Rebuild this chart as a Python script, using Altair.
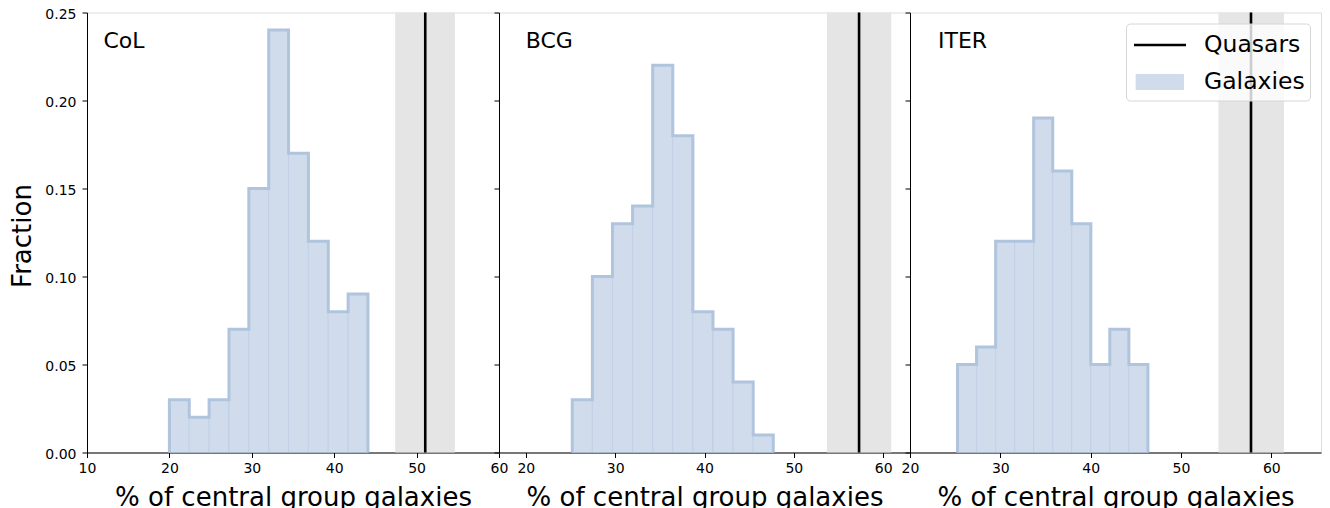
import altair as alt
import pandas as pd

# ---------------- data ----------------
panel_names = ["CoL", "BCG", "ITER"]

col_edges = [20.0, 22.41, 24.82, 27.23, 29.64, 32.05, 34.46, 36.87, 39.28, 41.69, 44.1]
col_frac = [0.03, 0.02, 0.03, 0.07, 0.15, 0.24, 0.17, 0.12, 0.08, 0.09]

bcg_edges = [25.2, 27.45, 29.7, 31.95, 34.2, 36.45, 38.7, 40.95, 43.2, 45.45, 47.7]
bcg_frac = [0.03, 0.10, 0.13, 0.14, 0.22, 0.18, 0.08, 0.07, 0.04, 0.01]

iter_edges = [25.26, 27.37, 29.48, 31.58, 33.69, 35.80, 37.91, 40.02, 42.12, 44.23, 46.34]
iter_frac = [0.05, 0.06, 0.12, 0.12, 0.19, 0.16, 0.13, 0.05, 0.07, 0.05]

quasar_value = [51.05, 57.3, 57.75]
quasar_low = [47.4, 53.7, 54.15]
quasar_high = [54.65, 60.9, 61.4]

x_domains = [[10, 60], [17, 63], [20, 65.5]]
x_ticks = [[10, 20, 30, 40, 50, 60], [20, 30, 40, 50, 60], [20, 30, 40, 50, 60]]
y_ticks = [0.0, 0.05, 0.10, 0.15, 0.20, 0.25]

legend_series = ["Quasars", "Galaxies"]

FILL = "#d0dceb"
EDGE = "#b0c4de"
BAND = "#e5e5e5"
FONT = "DejaVu Sans"

edges_all = [col_edges, bcg_edges, iter_edges]
fracs_all = [col_frac, bcg_frac, iter_frac]
label_x = [12.0, 20.0, 23.1]
widths = [412, 411, 411]


def make_panel(i):
    edges = edges_all[i]
    fracs = fracs_all[i]
    bars = pd.DataFrame({"start": edges[:-1], "end": edges[1:], "frac": fracs})
    # outline vertices of the step histogram
    xs, ys = [edges[0]], [0.0]
    for k, f in enumerate(fracs):
        xs += [edges[k], edges[k + 1]]
        ys += [f, f]
    xs.append(edges[-1])
    ys.append(0.0)
    outline = pd.DataFrame({"x": xs, "y": ys, "i": list(range(len(xs)))})
    qdf = pd.DataFrame({"q": [quasar_value[i]], "lo": [quasar_low[i]], "hi": [quasar_high[i]]})

    xscale = alt.Scale(domain=x_domains[i], nice=False, zero=False)
    yscale = alt.Scale(domain=[0, 0.25], nice=False, zero=True)

    xaxis = alt.Axis(
        values=x_ticks[i], title="% of central group galaxies", grid=False,
        labelFontSize=14, tickSize=5, labelPadding=4, titleFontSize=26,
        titleFontWeight="normal", titlePadding=9, labelFlush=False,
        labelOverlap=False, labelColor="black", tickColor="black",
        domainColor="black", titleColor="black", labelFont=FONT, titleFont=FONT,
    )
    if i == 0:
        yaxis = alt.Axis(
            values=y_ticks, format=".2f", title="Fraction", grid=False,
            labelFontSize=14, tickSize=5, labelPadding=6, labelOffset=1.5,
            titleFontSize=26, titleFontWeight="normal", titleX=-57, titleY=223,
            titleAngle=270, titleBaseline="alphabetic", titleAlign="center",
            labelColor="black", tickColor="black", domainColor="black",
            titleColor="black", labelFont=FONT, titleFont=FONT,
        )
    else:
        yaxis = alt.Axis(
            values=y_ticks, labels=False, title=None, grid=False, tickSize=5,
            tickColor="black", domainColor="black",
        )

    band = alt.Chart(qdf).mark_rect(color=BAND).encode(
        x=alt.X("lo:Q", scale=xscale, axis=xaxis), x2="hi:Q"
    )
    hist = alt.Chart(bars).mark_rect(
        fill=FILL, stroke=EDGE, strokeOpacity=0.45, strokeWidth=1
    ).encode(
        x=alt.X("start:Q", scale=xscale, axis=xaxis),
        x2="end:Q",
        y=alt.Y("frac:Q", scale=yscale, axis=yaxis),
        y2=alt.datum(0),
    )
    step = alt.Chart(outline).mark_line(
        color=EDGE, strokeWidth=3, strokeJoin="miter"
    ).encode(
        x=alt.X("x:Q", scale=xscale, axis=xaxis),
        y=alt.Y("y:Q", scale=yscale, axis=yaxis),
        order="i:Q",
    )
    rule = alt.Chart(qdf).mark_rule(color="black", strokeWidth=2.6).encode(
        x=alt.X("q:Q", scale=xscale, axis=xaxis)
    )
    label = alt.Chart(pd.DataFrame({"name": [panel_names[i]]})).mark_text(
        align="left", baseline="alphabetic", fontSize=22, font=FONT, color="black"
    ).encode(
        x=alt.datum(label_x[i], scale=xscale),
        y=alt.datum(0.23, scale=yscale),
        text="name:N",
    )
    layers = [band, hist, step, rule, label]

    if i == 2:
        leg = alt.Legend(
            title=None, orient="top-right", offset=11, padding=5,
            fillColor="rgba(255,255,255,0.8)", strokeColor="#d6d6d6",
            cornerRadius=4, labelFontSize=23.5, labelFont=FONT, labelColor="black",
            symbolSize=900, symbolStrokeWidth=2.6, labelOffset=40, rowPadding=9,
            labelLimit=300, symbolOpacity=1,
        )
        ldf = pd.DataFrame({"series": legend_series})
        line_path = "M-0.9,0L2.567,0"
        rect_path = "M-0.79,-0.533L2.43,-0.533L2.43,0.533L-0.79,0.533Z"
        legend_layer = alt.Chart(ldf).mark_point(filled=True, strokeWidth=2.6, opacity=1).encode(
            fill=alt.Fill("series:N", scale=alt.Scale(domain=legend_series, range=["black", FILL]), legend=leg),
            stroke=alt.Stroke("series:N", scale=alt.Scale(domain=legend_series, range=["black", "transparent"]), legend=leg),
            shape=alt.Shape("series:N", scale=alt.Scale(domain=legend_series, range=[line_path, rect_path]), legend=leg),
        ).transform_filter("false")
        layers.append(legend_layer)

    return alt.layer(*layers).properties(width=widths[i], height=440)


panels = [make_panel(i) for i in range(3)]

chart = alt.HConcatChart(
    hconcat=panels, spacing=0, bounds="flush",
    padding={"left": 0, "top": -1.5, "right": 0, "bottom": 5},
).resolve_scale(
    fill="independent", stroke="independent", shape="independent"
).resolve_legend(
    fill="independent", stroke="independent", shape="independent"
).configure_view(
    stroke="black", strokeWidth=1
).configure(
    font=FONT
)

chart.save("out.html", embed_options={"renderer": "svg", "actions": False})
